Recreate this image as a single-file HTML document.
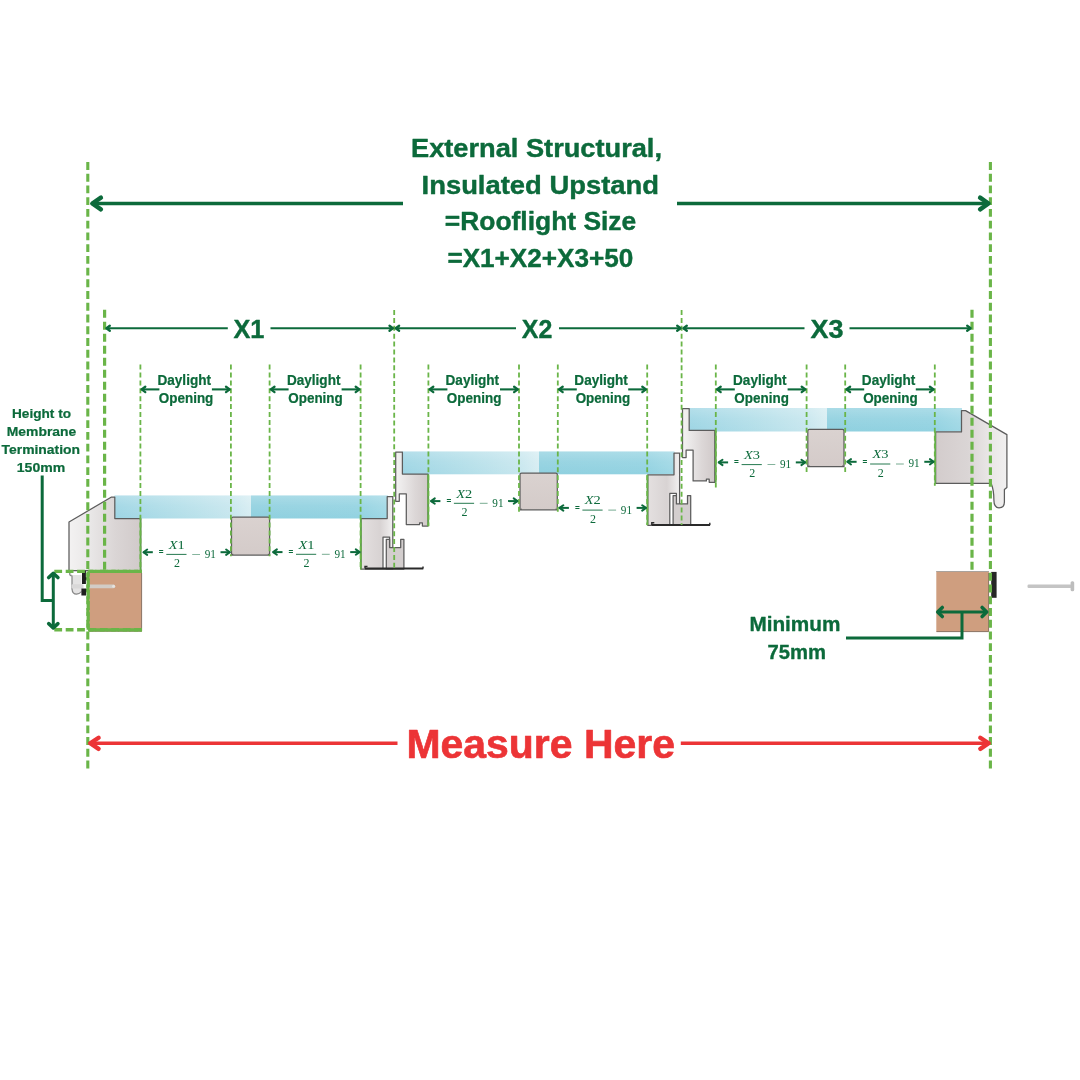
<!DOCTYPE html>
<html lang="en"><head><meta charset="utf-8"><title>Rooflight measuring guide</title>
<style>
html,body{margin:0;padding:0;background:#fff;}
body{width:1080px;height:1080px;overflow:hidden;}
svg{display:block;will-change:transform;}
text{font-family:"Liberation Sans",sans-serif;font-weight:bold;}
.m{font-family:"Liberation Serif",serif;font-weight:normal;}
.mi{font-family:"Liberation Serif",serif;font-weight:normal;font-style:italic;}
</style></head><body>
<svg width="1080" height="1080" viewBox="0 0 1080 1080">
<defs>
<linearGradient id="gl" x1="0" x2="1" y1="0" y2="0">
<stop offset="0" stop-color="#9dd5e4"/><stop offset="0.5" stop-color="#b4dfe9"/><stop offset="0.85" stop-color="#c6e6ee"/><stop offset="1" stop-color="#d6edf2"/>
</linearGradient>
<linearGradient id="gr" x1="0" x2="1" y1="0" y2="0">
<stop offset="0" stop-color="#8fd0df"/><stop offset="0.8" stop-color="#92d2e1"/><stop offset="1" stop-color="#a0d8e5"/>
</linearGradient>
<linearGradient id="gv" x1="0" x2="0" y1="0" y2="1">
<stop offset="0" stop-color="#fff" stop-opacity="0.24"/><stop offset="0.45" stop-color="#fff" stop-opacity="0.09"/><stop offset="1" stop-color="#fff" stop-opacity="0"/>
</linearGradient>
<linearGradient id="fr" x1="0" x2="1" y1="0" y2="0">
<stop offset="0" stop-color="#e6e3e3"/><stop offset="0.5" stop-color="#d9d5d5"/><stop offset="1" stop-color="#cfc9c9"/>
</linearGradient>
<linearGradient id="fu" x1="0" x2="1" y1="0" y2="0">
<stop offset="0" stop-color="#f4f3f3"/><stop offset="0.22" stop-color="#ebe9e9"/><stop offset="0.6" stop-color="#dcd7d7"/><stop offset="1" stop-color="#d0c9c9"/>
</linearGradient>
<linearGradient id="fl" x1="0" x2="1" y1="0" y2="0">
<stop offset="0" stop-color="#e4e0e0"/><stop offset="0.6" stop-color="#d8d3d3"/><stop offset="0.82" stop-color="#e6e3e3"/><stop offset="1" stop-color="#f2f1f1"/>
</linearGradient>
<linearGradient id="frr" x1="0" x2="1" y1="0" y2="0">
<stop offset="0" stop-color="#d3cccc"/><stop offset="0.45" stop-color="#dad5d5"/><stop offset="0.75" stop-color="#e9e6e6"/><stop offset="1" stop-color="#f1f0f0"/>
</linearGradient>
<linearGradient id="frl" x1="0" x2="1" y1="0" y2="0">
<stop offset="0" stop-color="#f3f2f2"/><stop offset="0.3" stop-color="#e9e7e7"/><stop offset="0.65" stop-color="#dad5d5"/><stop offset="1" stop-color="#d1caca"/>
</linearGradient>
<linearGradient id="frv" x1="0" x2="0" y1="0" y2="1">
<stop offset="0" stop-color="#dad2d0"/><stop offset="1" stop-color="#d4cbc9"/>
</linearGradient>
</defs>
<rect width="1080" height="1080" fill="#fff"/>

<rect x="114.5" y="495.5" width="136.5" height="23.0" fill="url(#gl)"/>
<rect x="251" y="495.5" width="137" height="23.0" fill="url(#gr)"/>
<rect x="114.5" y="495.5" width="273.5" height="23.0" fill="url(#gv)"/>
<rect x="402" y="451.5" width="137" height="22.80000000000001" fill="url(#gl)"/>
<rect x="539" y="451.5" width="135.5" height="22.80000000000001" fill="url(#gr)"/>
<rect x="402" y="451.5" width="272.5" height="22.80000000000001" fill="url(#gv)"/>
<rect x="689" y="408" width="138" height="23.5" fill="url(#gl)"/>
<rect x="827" y="408" width="135" height="23.5" fill="url(#gr)"/>
<rect x="689" y="408" width="273" height="23.5" fill="url(#gv)"/>
<path d="M69,522 L111.5,497 L114.8,497 L114.8,518.5 L140.7,518.5 L140.7,570.5 L69,570.5 Z" fill="url(#frl)" stroke="#5c5c5c" stroke-width="1.25" stroke-linejoin="round"/>
<rect x="88.7" y="571" width="53" height="60.3" fill="#cf9e7f"/><path d="M141.6,573 L141.6,631.2 L89,631.2" fill="none" stroke="#8b7466" stroke-width="1"/>
<path d="M69.7,570.5 L69.7,574.3 Q69.9,575.6 72,576 L72,589 Q72.4,594.2 76.5,594.2 Q79.5,594 81.5,591.5 L81.5,575 L72,575 Z" fill="#e4e3e3"/>
<path d="M69.7,570.5 L69.7,574.3 Q69.9,575.6 72,576 L72,589 Q72.4,594.2 76.5,594.2 Q79.5,594 81.5,591.5" fill="none" stroke="#858585" stroke-width="1.2"/>
<rect x="71.5" y="584.2" width="12" height="4.3" rx="1.2" fill="#d9d8d8"/>
<rect x="88" y="584.4" width="27.2" height="3.8" rx="1.8" fill="#d2ccc6"/>
<circle cx="113.6" cy="586.3" r="1.5" fill="#e6e2de"/>
<path d="M82,570.8 L85.9,570.8 L85.9,577.2 L87.9,577.6 L87.9,579.6 L85.9,580 L85.9,584 L82,584 Z" fill="#1f1f1f"/>
<path d="M81.4,588.5 L86,588.5 L87.9,589.8 L87.9,591.2 L86.2,591.8 L86.2,595.6 L81.4,595.6 Z" fill="#1f1f1f"/>
<path d="M231.5,555 L231.5,518.6 Q231.5,517 233.1,517 L268.0,517 Q269.6,517 269.6,518.6 L269.6,555 Z" fill="url(#frv)" stroke="#5c5c5c" stroke-width="1.25" stroke-linejoin="round"/>
<path d="M232.7,553.8 L232.7,555 M268.40000000000003,553.8 L268.40000000000003,555" fill="none" stroke="#555" stroke-width="1"/>
<path d="M520,509.8 L520,474.6 Q520,473 521.6,473 L555.6999999999999,473 Q557.3,473 557.3,474.6 L557.3,509.8 Z" fill="url(#frv)" stroke="#5c5c5c" stroke-width="1.25" stroke-linejoin="round"/>
<path d="M521.2,508.6 L521.2,509.8 M556.0999999999999,508.6 L556.0999999999999,509.8" fill="none" stroke="#555" stroke-width="1"/>
<path d="M807.8,466.6 L807.8,431.0 Q807.8,429.4 809.4,429.4 L842.4,429.4 Q844,429.4 844,431.0 L844,466.6 Z" fill="url(#frv)" stroke="#5c5c5c" stroke-width="1.25" stroke-linejoin="round"/>
<path d="M809.0,465.40000000000003 L809.0,466.6 M842.8,465.40000000000003 L842.8,466.6" fill="none" stroke="#555" stroke-width="1"/>
<path d="M 361.0,518.5 L 387.2,518.5 L 387.2,496.7 L 392.8,496.7 L 392.8,569.0 L 361.0,569.0 Z" fill="url(#fl)" stroke="#5c5c5c" stroke-width="1.25" stroke-linejoin="round"/>
<path d="M 383.0,569.0 L 383.0,537.0 L 389.6,537.0 L 389.6,569.0" fill="#fff" stroke="#5c5c5c" stroke-width="1.25" stroke-linejoin="round"/>
<path d="M 386.3,569.0 L 386.3,539.3 L 389.6,539.3 L 389.6,547.6 L 400.7,547.6 L 400.7,539.3 L 403.9,539.3 L 403.9,569.0 Z" fill="#d3cece" stroke="#5c5c5c" stroke-width="1.25" stroke-linejoin="round"/>
<path d="M 365.0,568.6 L 423.3,568.6" stroke="#2a2a2a" stroke-width="2" fill="none"/>
<path d="M 365.0,568.6 L 365.0,566.5 L 367.5,566.5" stroke="#2a2a2a" stroke-width="1.4" fill="none"/>
<path d="M 423.0,568.6 L 423.0,566.5" stroke="#2a2a2a" stroke-width="1.4" fill="none"/>
<path d="M 395.7,452.2 L 402.4,452.2 L 402.4,474.1 L 428.0,474.1 L 428.0,526.0 L 422.4,526.0 L 422.4,522.8 L 419.6,522.8 L 419.6,524.6 L 406.3,524.6 L 406.3,493.9 L 399.3,493.9 L 399.3,501.3 L 395.7,501.3 Z" fill="url(#fu)" stroke="#5c5c5c" stroke-width="1.25" stroke-linejoin="round"/>
<path d="M 647.8,474.8 L 674.0,474.8 L 674.0,453.0 L 679.6,453.0 L 679.6,525.3 L 647.8,525.3 Z" fill="url(#fl)" stroke="#5c5c5c" stroke-width="1.25" stroke-linejoin="round"/>
<path d="M 669.8,525.3 L 669.8,493.3 L 676.4,493.3 L 676.4,525.3" fill="#fff" stroke="#5c5c5c" stroke-width="1.25" stroke-linejoin="round"/>
<path d="M 673.1,525.3 L 673.1,495.6 L 676.4,495.6 L 676.4,503.9 L 687.5,503.9 L 687.5,495.6 L 690.7,495.6 L 690.7,525.3 Z" fill="#d3cece" stroke="#5c5c5c" stroke-width="1.25" stroke-linejoin="round"/>
<path d="M 651.8,524.9 L 710.1,524.9" stroke="#2a2a2a" stroke-width="2" fill="none"/>
<path d="M 651.8,524.9 L 651.8,522.8 L 654.3,522.8" stroke="#2a2a2a" stroke-width="1.4" fill="none"/>
<path d="M 709.8,524.9 L 709.8,522.8" stroke="#2a2a2a" stroke-width="1.4" fill="none"/>
<path d="M 682.5,408.5 L 689.2,408.5 L 689.2,430.4 L 714.8,430.4 L 714.8,482.3 L 709.2,482.3 L 709.2,479.1 L 706.4,479.1 L 706.4,480.9 L 693.1,480.9 L 693.1,450.2 L 686.1,450.2 L 686.1,457.6 L 682.5,457.6 Z" fill="url(#fu)" stroke="#5c5c5c" stroke-width="1.25" stroke-linejoin="round"/>
<path d="M935.6,431.9 L961.5,431.9 L961.5,410.6 L965.6,410.6 L1006.9,434.6 L1006.9,487.4 L1004.4,489.5 L1004.4,502 Q1004.4,507.8 999,507.8 Q993.9,507.8 993.9,500 Q993.9,490 991.1,483.3 L935.6,483.3 Z" fill="url(#frr)" stroke="#5c5c5c" stroke-width="1.25" stroke-linejoin="round"/>
<rect x="936.3" y="571.2" width="52.6" height="60.6" fill="#cf9e7f"/><path d="M936.3,571.5 L988.9,571.5" fill="none" stroke="#aaa29c" stroke-width="1"/><path d="M988.6,573 L988.6,631.6 L936.5,631.6" fill="none" stroke="#8b7466" stroke-width="1"/>
<rect x="991.2" y="571.9" width="5.4" height="25.9" fill="#262626"/>
<rect x="1027.5" y="584.6" width="44" height="3.4" rx="1.2" fill="#c4c4c4"/>
<rect x="1070.6" y="581.3" width="3.6" height="10" rx="1.5" fill="#bdbdbd"/>
<line x1="140.5" y1="518.5" x2="140.5" y2="570.5" stroke="#62a94a" stroke-width="1.7"/>
<line x1="360.8" y1="518.5" x2="360.8" y2="569.6" stroke="#62a94a" stroke-width="1.7"/>
<line x1="428.3" y1="474.1" x2="428.3" y2="526" stroke="#62a94a" stroke-width="1.7"/>
<line x1="647.4" y1="474.8" x2="647.4" y2="525.2" stroke="#62a94a" stroke-width="1.7"/>
<line x1="715.8" y1="430.9" x2="715.8" y2="482.8" stroke="#62a94a" stroke-width="1.7"/>
<line x1="935.2" y1="431.9" x2="935.2" y2="483.5" stroke="#62a94a" stroke-width="1.7"/>
<line x1="87.8" y1="162" x2="87.8" y2="769.2" stroke="#6ab548" stroke-width="3.1" stroke-dasharray="7.9 3.837"/>
<line x1="990.4" y1="162" x2="990.4" y2="769.2" stroke="#6ab548" stroke-width="3.1" stroke-dasharray="7.9 3.837"/>
<line x1="104.6" y1="309.7" x2="104.6" y2="570" stroke="#6ab548" stroke-width="3.2" stroke-dasharray="8.0 4.0"/>
<line x1="972" y1="309.7" x2="972" y2="569.8" stroke="#6ab548" stroke-width="3.2" stroke-dasharray="8.0 4.0"/>
<line x1="394.2" y1="310" x2="394.2" y2="569" stroke="#6ab548" stroke-width="1.8" stroke-dasharray="5.0 2.9"/>
<line x1="681.6" y1="310" x2="681.6" y2="525" stroke="#6ab548" stroke-width="1.8" stroke-dasharray="5.0 2.9"/>
<line x1="140.4" y1="364.6" x2="140.4" y2="570" stroke="#6ab548" stroke-width="1.8" stroke-dasharray="5.0 2.9"/>
<line x1="230.9" y1="364.6" x2="230.9" y2="556.3" stroke="#6ab548" stroke-width="1.8" stroke-dasharray="5.0 2.9"/>
<line x1="269.6" y1="364.6" x2="269.6" y2="556.3" stroke="#6ab548" stroke-width="1.8" stroke-dasharray="5.0 2.9"/>
<line x1="360.6" y1="364.6" x2="360.6" y2="569.5" stroke="#6ab548" stroke-width="1.8" stroke-dasharray="5.0 2.9"/>
<line x1="428.4" y1="364.6" x2="428.4" y2="526.3" stroke="#6ab548" stroke-width="1.8" stroke-dasharray="5.0 2.9"/>
<line x1="519" y1="364.6" x2="519" y2="514" stroke="#6ab548" stroke-width="1.8" stroke-dasharray="5.0 2.9"/>
<line x1="557.8" y1="364.6" x2="557.8" y2="514" stroke="#6ab548" stroke-width="1.8" stroke-dasharray="5.0 2.9"/>
<line x1="647.2" y1="364.6" x2="647.2" y2="525" stroke="#6ab548" stroke-width="1.8" stroke-dasharray="5.0 2.9"/>
<line x1="715.8" y1="364.6" x2="715.8" y2="487.4" stroke="#6ab548" stroke-width="1.8" stroke-dasharray="5.0 2.9"/>
<line x1="806.6" y1="364.6" x2="806.6" y2="472" stroke="#6ab548" stroke-width="1.8" stroke-dasharray="5.0 2.9"/>
<line x1="845.2" y1="364.6" x2="845.2" y2="472" stroke="#6ab548" stroke-width="1.8" stroke-dasharray="5.0 2.9"/>
<line x1="934.8" y1="364.6" x2="934.8" y2="485.7" stroke="#6ab548" stroke-width="1.8" stroke-dasharray="5.0 2.9"/>
<line x1="54.3" y1="571.4" x2="142" y2="571.4" stroke="#6ab548" stroke-width="3.4" stroke-dasharray="7.8 3.6"/>
<line x1="54.3" y1="629.8" x2="142" y2="629.8" stroke="#6ab548" stroke-width="3.4" stroke-dasharray="7.8 3.6"/>
<path d="M88.2,571.4 L141.8,571.4 M88.2,629.8 L141.8,629.8 M88.2,571.4 L88.2,629.8" fill="none" stroke="#6ab548" stroke-width="3.2" stroke-dasharray="9 2.2" stroke-dashoffset="4"/>
<line x1="91.84" y1="203.5" x2="403.00" y2="203.5" stroke="#0c6a3b" stroke-width="3.5"/>
<path d="M100.9,197.7 L92.3,203.5 L100.9,209.3" fill="none" stroke="#0c6a3b" stroke-width="4.48" stroke-linecap="round" stroke-linejoin="round"/>
<line x1="677.00" y1="203.5" x2="988.96" y2="203.5" stroke="#0c6a3b" stroke-width="3.5"/>
<path d="M980.1,209.3 L988.5,203.5 L980.1,197.7" fill="none" stroke="#0c6a3b" stroke-width="4.48" stroke-linecap="round" stroke-linejoin="round"/>
<line x1="106.16" y1="328.3" x2="227.80" y2="328.3" stroke="#0c6a3b" stroke-width="2.1"/>
<path d="M109.8,325.8 L106.4,328.3 L109.8,330.8" fill="none" stroke="#0c6a3b" stroke-width="2.3100000000000005" stroke-linecap="round" stroke-linejoin="round"/>
<line x1="270.50" y1="328.3" x2="393.15" y2="328.3" stroke="#0c6a3b" stroke-width="2.1"/>
<path d="M389.5,330.8 L392.9,328.3 L389.5,325.8" fill="none" stroke="#0c6a3b" stroke-width="2.3100000000000005" stroke-linecap="round" stroke-linejoin="round"/>
<line x1="395.45" y1="328.3" x2="516.00" y2="328.3" stroke="#0c6a3b" stroke-width="2.1"/>
<path d="M399.1,325.8 L395.7,328.3 L399.1,330.8" fill="none" stroke="#0c6a3b" stroke-width="2.3100000000000005" stroke-linecap="round" stroke-linejoin="round"/>
<line x1="559.00" y1="328.3" x2="680.85" y2="328.3" stroke="#0c6a3b" stroke-width="2.1"/>
<path d="M677.2,330.8 L680.6,328.3 L677.2,325.8" fill="none" stroke="#0c6a3b" stroke-width="2.3100000000000005" stroke-linecap="round" stroke-linejoin="round"/>
<line x1="683.15" y1="328.3" x2="804.50" y2="328.3" stroke="#0c6a3b" stroke-width="2.1"/>
<path d="M686.8,325.8 L683.4,328.3 L686.8,330.8" fill="none" stroke="#0c6a3b" stroke-width="2.3100000000000005" stroke-linecap="round" stroke-linejoin="round"/>
<line x1="849.50" y1="328.3" x2="970.85" y2="328.3" stroke="#0c6a3b" stroke-width="2.1"/>
<path d="M967.2,330.8 L970.6,328.3 L967.2,325.8" fill="none" stroke="#0c6a3b" stroke-width="2.3100000000000005" stroke-linecap="round" stroke-linejoin="round"/>
<line x1="89.79" y1="743.3" x2="397.50" y2="743.3" stroke="#ec3436" stroke-width="3.5"/>
<path d="M98.6,737.7 L90.2,743.3 L98.6,748.9" fill="none" stroke="#ec3436" stroke-width="4.375" stroke-linecap="round" stroke-linejoin="round"/>
<line x1="680.80" y1="743.3" x2="989.11" y2="743.3" stroke="#ec3436" stroke-width="3.5"/>
<path d="M980.3,748.9 L988.7,743.3 L980.3,737.7" fill="none" stroke="#ec3436" stroke-width="4.375" stroke-linecap="round" stroke-linejoin="round"/>
<text x="536.5" y="156.5" font-size="25.5" text-anchor="middle" fill="#0c6a3b" stroke="#0c6a3b" stroke-width="0.41" stroke-linejoin="round" textLength="251" lengthAdjust="spacingAndGlyphs">External Structural,</text>
<text x="540.3" y="193.5" font-size="25.5" text-anchor="middle" fill="#0c6a3b" stroke="#0c6a3b" stroke-width="0.41" stroke-linejoin="round" textLength="237.5" lengthAdjust="spacingAndGlyphs">Insulated Upstand</text>
<text x="540.5" y="230.1" font-size="25.5" text-anchor="middle" fill="#0c6a3b" stroke="#0c6a3b" stroke-width="0.41" stroke-linejoin="round" textLength="191.5" lengthAdjust="spacingAndGlyphs">=Rooflight Size</text>
<text x="540.4" y="266.9" font-size="25.5" text-anchor="middle" fill="#0c6a3b" stroke="#0c6a3b" stroke-width="0.41" stroke-linejoin="round" textLength="186" lengthAdjust="spacingAndGlyphs">=X1+X2+X3+50</text>
<text x="248.9" y="337.7" font-size="26.5" text-anchor="middle" fill="#0c6a3b" stroke="#0c6a3b" stroke-width="0.42" stroke-linejoin="round" textLength="31" lengthAdjust="spacingAndGlyphs">X1</text>
<text x="537" y="337.7" font-size="26.5" text-anchor="middle" fill="#0c6a3b" stroke="#0c6a3b" stroke-width="0.42" stroke-linejoin="round" textLength="30.5" lengthAdjust="spacingAndGlyphs">X2</text>
<text x="827" y="337.7" font-size="26.5" text-anchor="middle" fill="#0c6a3b" stroke="#0c6a3b" stroke-width="0.42" stroke-linejoin="round" textLength="33" lengthAdjust="spacingAndGlyphs">X3</text>
<text x="540.7" y="757.8" font-size="40.3" text-anchor="middle" fill="#ec3436" stroke="#ec3436" stroke-width="0.64" stroke-linejoin="round" textLength="268.5" lengthAdjust="spacingAndGlyphs">Measure Here</text>
<text x="184.25" y="385.2" font-size="15" text-anchor="middle" fill="#0c6a3b" stroke="#0c6a3b" stroke-width="0.24" stroke-linejoin="round" textLength="53.5" lengthAdjust="spacingAndGlyphs">Daylight</text>
<text x="186.05" y="402.8" font-size="15" text-anchor="middle" fill="#0c6a3b" stroke="#0c6a3b" stroke-width="0.24" stroke-linejoin="round" textLength="54.5" lengthAdjust="spacingAndGlyphs">Opening</text>
<line x1="141.36" y1="389.4" x2="159.40" y2="389.4" stroke="#0c6a3b" stroke-width="2.1"/>
<path d="M145.3,386.7 L141.6,389.4 L145.3,392.1" fill="none" stroke="#0c6a3b" stroke-width="2.3100000000000005" stroke-linecap="round" stroke-linejoin="round"/>
<line x1="211.90" y1="389.4" x2="229.94" y2="389.4" stroke="#0c6a3b" stroke-width="2.1"/>
<path d="M226.0,392.1 L229.7,389.4 L226.0,386.7" fill="none" stroke="#0c6a3b" stroke-width="2.3100000000000005" stroke-linecap="round" stroke-linejoin="round"/>
<text x="313.70000000000005" y="385.2" font-size="15" text-anchor="middle" fill="#0c6a3b" stroke="#0c6a3b" stroke-width="0.24" stroke-linejoin="round" textLength="53.5" lengthAdjust="spacingAndGlyphs">Daylight</text>
<text x="315.5" y="402.8" font-size="15" text-anchor="middle" fill="#0c6a3b" stroke="#0c6a3b" stroke-width="0.24" stroke-linejoin="round" textLength="54.5" lengthAdjust="spacingAndGlyphs">Opening</text>
<line x1="270.56" y1="389.4" x2="288.60" y2="389.4" stroke="#0c6a3b" stroke-width="2.1"/>
<path d="M274.5,386.7 L270.8,389.4 L274.5,392.1" fill="none" stroke="#0c6a3b" stroke-width="2.3100000000000005" stroke-linecap="round" stroke-linejoin="round"/>
<line x1="341.60" y1="389.4" x2="359.65" y2="389.4" stroke="#0c6a3b" stroke-width="2.1"/>
<path d="M355.7,392.1 L359.4,389.4 L355.7,386.7" fill="none" stroke="#0c6a3b" stroke-width="2.3100000000000005" stroke-linecap="round" stroke-linejoin="round"/>
<text x="472.3" y="385.2" font-size="15" text-anchor="middle" fill="#0c6a3b" stroke="#0c6a3b" stroke-width="0.24" stroke-linejoin="round" textLength="53.5" lengthAdjust="spacingAndGlyphs">Daylight</text>
<text x="474.09999999999997" y="402.8" font-size="15" text-anchor="middle" fill="#0c6a3b" stroke="#0c6a3b" stroke-width="0.24" stroke-linejoin="round" textLength="54.5" lengthAdjust="spacingAndGlyphs">Opening</text>
<line x1="429.35" y1="389.4" x2="447.40" y2="389.4" stroke="#0c6a3b" stroke-width="2.1"/>
<path d="M433.3,386.7 L429.6,389.4 L433.3,392.1" fill="none" stroke="#0c6a3b" stroke-width="2.3100000000000005" stroke-linecap="round" stroke-linejoin="round"/>
<line x1="500.00" y1="389.4" x2="518.05" y2="389.4" stroke="#0c6a3b" stroke-width="2.1"/>
<path d="M514.1,392.1 L517.8,389.4 L514.1,386.7" fill="none" stroke="#0c6a3b" stroke-width="2.3100000000000005" stroke-linecap="round" stroke-linejoin="round"/>
<text x="601.1" y="385.2" font-size="15" text-anchor="middle" fill="#0c6a3b" stroke="#0c6a3b" stroke-width="0.24" stroke-linejoin="round" textLength="53.5" lengthAdjust="spacingAndGlyphs">Daylight</text>
<text x="602.9" y="402.8" font-size="15" text-anchor="middle" fill="#0c6a3b" stroke="#0c6a3b" stroke-width="0.24" stroke-linejoin="round" textLength="54.5" lengthAdjust="spacingAndGlyphs">Opening</text>
<line x1="558.75" y1="389.4" x2="576.80" y2="389.4" stroke="#0c6a3b" stroke-width="2.1"/>
<path d="M562.7,386.7 L559.0,389.4 L562.7,392.1" fill="none" stroke="#0c6a3b" stroke-width="2.3100000000000005" stroke-linecap="round" stroke-linejoin="round"/>
<line x1="628.20" y1="389.4" x2="646.25" y2="389.4" stroke="#0c6a3b" stroke-width="2.1"/>
<path d="M642.3,392.1 L646.0,389.4 L642.3,386.7" fill="none" stroke="#0c6a3b" stroke-width="2.3100000000000005" stroke-linecap="round" stroke-linejoin="round"/>
<text x="759.8000000000001" y="385.2" font-size="15" text-anchor="middle" fill="#0c6a3b" stroke="#0c6a3b" stroke-width="0.24" stroke-linejoin="round" textLength="53.5" lengthAdjust="spacingAndGlyphs">Daylight</text>
<text x="761.6" y="402.8" font-size="15" text-anchor="middle" fill="#0c6a3b" stroke="#0c6a3b" stroke-width="0.24" stroke-linejoin="round" textLength="54.5" lengthAdjust="spacingAndGlyphs">Opening</text>
<line x1="716.75" y1="389.4" x2="734.80" y2="389.4" stroke="#0c6a3b" stroke-width="2.1"/>
<path d="M720.7,386.7 L717.0,389.4 L720.7,392.1" fill="none" stroke="#0c6a3b" stroke-width="2.3100000000000005" stroke-linecap="round" stroke-linejoin="round"/>
<line x1="787.60" y1="389.4" x2="805.65" y2="389.4" stroke="#0c6a3b" stroke-width="2.1"/>
<path d="M801.7,392.1 L805.4,389.4 L801.7,386.7" fill="none" stroke="#0c6a3b" stroke-width="2.3100000000000005" stroke-linecap="round" stroke-linejoin="round"/>
<text x="888.6" y="385.2" font-size="15" text-anchor="middle" fill="#0c6a3b" stroke="#0c6a3b" stroke-width="0.24" stroke-linejoin="round" textLength="53.5" lengthAdjust="spacingAndGlyphs">Daylight</text>
<text x="890.4" y="402.8" font-size="15" text-anchor="middle" fill="#0c6a3b" stroke="#0c6a3b" stroke-width="0.24" stroke-linejoin="round" textLength="54.5" lengthAdjust="spacingAndGlyphs">Opening</text>
<line x1="846.15" y1="389.4" x2="864.20" y2="389.4" stroke="#0c6a3b" stroke-width="2.1"/>
<path d="M850.1,386.7 L846.4,389.4 L850.1,392.1" fill="none" stroke="#0c6a3b" stroke-width="2.3100000000000005" stroke-linecap="round" stroke-linejoin="round"/>
<line x1="915.80" y1="389.4" x2="933.85" y2="389.4" stroke="#0c6a3b" stroke-width="2.1"/>
<path d="M929.9,392.1 L933.6,389.4 L929.9,386.7" fill="none" stroke="#0c6a3b" stroke-width="2.3100000000000005" stroke-linecap="round" stroke-linejoin="round"/>
<line x1="143.18" y1="552.2" x2="152.80" y2="552.2" stroke="#0c6a3b" stroke-width="2.0"/>
<path d="M147.2,549.5 L143.4,552.2 L147.2,554.9" fill="none" stroke="#0c6a3b" stroke-width="1.96" stroke-linecap="round" stroke-linejoin="round"/>
<line x1="220.50" y1="552.2" x2="230.12" y2="552.2" stroke="#0c6a3b" stroke-width="2.0"/>
<path d="M226.1,554.9 L229.9,552.2 L226.1,549.5" fill="none" stroke="#0c6a3b" stroke-width="1.96" stroke-linecap="round" stroke-linejoin="round"/>
<text x="161.2" y="554.9" font-size="8.5" text-anchor="middle" fill="#0c6a3b" textLength="4.8" lengthAdjust="spacingAndGlyphs">=</text>
<line x1="166.3" y1="554.4" x2="186.5" y2="554.4" stroke="#0c6a3b" stroke-width="0.9"/>
<text x="176.7" y="548.7" font-size="13" text-anchor="middle" fill="#0c6a3b" textLength="16" lengthAdjust="spacingAndGlyphs"><tspan class="mi">X</tspan><tspan class="m">1</tspan></text>
<text x="176.9" y="567.0" font-size="12" text-anchor="middle" fill="#0c6a3b" class="m">2</text>
<line x1="192.2" y1="554.4" x2="200.0" y2="554.4" stroke="#0c6a3b" stroke-width="0.8" opacity="0.7"/>
<text x="210.3" y="557.8" font-size="13" text-anchor="middle" fill="#0c6a3b" class="m" textLength="11.2" lengthAdjust="spacingAndGlyphs">91</text>
<line x1="272.88" y1="552.1" x2="282.50" y2="552.1" stroke="#0c6a3b" stroke-width="2.0"/>
<path d="M276.9,549.4 L273.1,552.1 L276.9,554.8" fill="none" stroke="#0c6a3b" stroke-width="1.96" stroke-linecap="round" stroke-linejoin="round"/>
<line x1="350.20" y1="552.1" x2="359.82" y2="552.1" stroke="#0c6a3b" stroke-width="2.0"/>
<path d="M355.8,554.8 L359.6,552.1 L355.8,549.4" fill="none" stroke="#0c6a3b" stroke-width="1.96" stroke-linecap="round" stroke-linejoin="round"/>
<text x="290.9" y="554.8" font-size="8.5" text-anchor="middle" fill="#0c6a3b" textLength="4.8" lengthAdjust="spacingAndGlyphs">=</text>
<line x1="296.0" y1="554.3" x2="316.2" y2="554.3" stroke="#0c6a3b" stroke-width="0.9"/>
<text x="306.4" y="548.6" font-size="13" text-anchor="middle" fill="#0c6a3b" textLength="16" lengthAdjust="spacingAndGlyphs"><tspan class="mi">X</tspan><tspan class="m">1</tspan></text>
<text x="306.6" y="566.9" font-size="12" text-anchor="middle" fill="#0c6a3b" class="m">2</text>
<line x1="321.9" y1="554.3" x2="329.7" y2="554.3" stroke="#0c6a3b" stroke-width="0.8" opacity="0.7"/>
<text x="340.0" y="557.7" font-size="13" text-anchor="middle" fill="#0c6a3b" class="m" textLength="11.2" lengthAdjust="spacingAndGlyphs">91</text>
<line x1="430.78" y1="501.1" x2="440.40" y2="501.1" stroke="#0c6a3b" stroke-width="2.0"/>
<path d="M434.8,498.4 L431.0,501.1 L434.8,503.8" fill="none" stroke="#0c6a3b" stroke-width="1.96" stroke-linecap="round" stroke-linejoin="round"/>
<line x1="508.10" y1="501.1" x2="517.72" y2="501.1" stroke="#0c6a3b" stroke-width="2.0"/>
<path d="M513.7,503.8 L517.5,501.1 L513.7,498.4" fill="none" stroke="#0c6a3b" stroke-width="1.96" stroke-linecap="round" stroke-linejoin="round"/>
<text x="448.8" y="503.8" font-size="8.5" text-anchor="middle" fill="#0c6a3b" textLength="4.8" lengthAdjust="spacingAndGlyphs">=</text>
<line x1="453.9" y1="503.3" x2="474.1" y2="503.3" stroke="#0c6a3b" stroke-width="0.9"/>
<text x="464.3" y="497.6" font-size="13" text-anchor="middle" fill="#0c6a3b" textLength="16" lengthAdjust="spacingAndGlyphs"><tspan class="mi">X</tspan><tspan class="m">2</tspan></text>
<text x="464.5" y="515.9" font-size="12" text-anchor="middle" fill="#0c6a3b" class="m">2</text>
<line x1="479.8" y1="503.3" x2="487.6" y2="503.3" stroke="#0c6a3b" stroke-width="0.8" opacity="0.7"/>
<text x="497.9" y="506.7" font-size="13" text-anchor="middle" fill="#0c6a3b" class="m" textLength="11.2" lengthAdjust="spacingAndGlyphs">91</text>
<line x1="559.28" y1="507.9" x2="568.90" y2="507.9" stroke="#0c6a3b" stroke-width="2.0"/>
<path d="M563.3,505.2 L559.5,507.9 L563.3,510.6" fill="none" stroke="#0c6a3b" stroke-width="1.96" stroke-linecap="round" stroke-linejoin="round"/>
<line x1="636.60" y1="507.9" x2="646.22" y2="507.9" stroke="#0c6a3b" stroke-width="2.0"/>
<path d="M642.2,510.6 L646.0,507.9 L642.2,505.2" fill="none" stroke="#0c6a3b" stroke-width="1.96" stroke-linecap="round" stroke-linejoin="round"/>
<text x="577.3" y="510.6" font-size="8.5" text-anchor="middle" fill="#0c6a3b" textLength="4.8" lengthAdjust="spacingAndGlyphs">=</text>
<line x1="582.4" y1="510.1" x2="602.6" y2="510.1" stroke="#0c6a3b" stroke-width="0.9"/>
<text x="592.8" y="504.4" font-size="13" text-anchor="middle" fill="#0c6a3b" textLength="16" lengthAdjust="spacingAndGlyphs"><tspan class="mi">X</tspan><tspan class="m">2</tspan></text>
<text x="593.0" y="522.7" font-size="12" text-anchor="middle" fill="#0c6a3b" class="m">2</text>
<line x1="608.3" y1="510.1" x2="616.1" y2="510.1" stroke="#0c6a3b" stroke-width="0.8" opacity="0.7"/>
<text x="626.4" y="513.5" font-size="13" text-anchor="middle" fill="#0c6a3b" class="m" textLength="11.2" lengthAdjust="spacingAndGlyphs">91</text>
<line x1="718.48" y1="462.4" x2="728.10" y2="462.4" stroke="#0c6a3b" stroke-width="2.0"/>
<path d="M722.5,459.7 L718.7,462.4 L722.5,465.1" fill="none" stroke="#0c6a3b" stroke-width="1.96" stroke-linecap="round" stroke-linejoin="round"/>
<line x1="795.80" y1="462.4" x2="805.42" y2="462.4" stroke="#0c6a3b" stroke-width="2.0"/>
<path d="M801.4,465.1 L805.2,462.4 L801.4,459.7" fill="none" stroke="#0c6a3b" stroke-width="1.96" stroke-linecap="round" stroke-linejoin="round"/>
<text x="736.5" y="465.1" font-size="8.5" text-anchor="middle" fill="#0c6a3b" textLength="4.8" lengthAdjust="spacingAndGlyphs">=</text>
<line x1="741.6" y1="464.6" x2="761.8" y2="464.6" stroke="#0c6a3b" stroke-width="0.9"/>
<text x="752.0" y="458.9" font-size="13" text-anchor="middle" fill="#0c6a3b" textLength="16" lengthAdjust="spacingAndGlyphs"><tspan class="mi">X</tspan><tspan class="m">3</tspan></text>
<text x="752.2" y="477.2" font-size="12" text-anchor="middle" fill="#0c6a3b" class="m">2</text>
<line x1="767.5" y1="464.6" x2="775.3" y2="464.6" stroke="#0c6a3b" stroke-width="0.8" opacity="0.7"/>
<text x="785.6" y="468.0" font-size="13" text-anchor="middle" fill="#0c6a3b" class="m" textLength="11.2" lengthAdjust="spacingAndGlyphs">91</text>
<line x1="846.98" y1="461.8" x2="856.60" y2="461.8" stroke="#0c6a3b" stroke-width="2.0"/>
<path d="M851.0,459.1 L847.2,461.8 L851.0,464.5" fill="none" stroke="#0c6a3b" stroke-width="1.96" stroke-linecap="round" stroke-linejoin="round"/>
<line x1="924.30" y1="461.8" x2="933.92" y2="461.8" stroke="#0c6a3b" stroke-width="2.0"/>
<path d="M929.9,464.5 L933.7,461.8 L929.9,459.1" fill="none" stroke="#0c6a3b" stroke-width="1.96" stroke-linecap="round" stroke-linejoin="round"/>
<text x="865.0" y="464.5" font-size="8.5" text-anchor="middle" fill="#0c6a3b" textLength="4.8" lengthAdjust="spacingAndGlyphs">=</text>
<line x1="870.1" y1="464.0" x2="890.3" y2="464.0" stroke="#0c6a3b" stroke-width="0.9"/>
<text x="880.5" y="458.3" font-size="13" text-anchor="middle" fill="#0c6a3b" textLength="16" lengthAdjust="spacingAndGlyphs"><tspan class="mi">X</tspan><tspan class="m">3</tspan></text>
<text x="880.7" y="476.6" font-size="12" text-anchor="middle" fill="#0c6a3b" class="m">2</text>
<line x1="896.0" y1="464.0" x2="903.8" y2="464.0" stroke="#0c6a3b" stroke-width="0.8" opacity="0.7"/>
<text x="914.1" y="467.4" font-size="13" text-anchor="middle" fill="#0c6a3b" class="m" textLength="11.2" lengthAdjust="spacingAndGlyphs">91</text>
<text x="41.5" y="418" font-size="12.5" text-anchor="middle" fill="#0c6a3b" stroke="#0c6a3b" stroke-width="0.2" stroke-linejoin="round" textLength="59" lengthAdjust="spacingAndGlyphs">Height to</text>
<text x="41.5" y="435.8" font-size="12.5" text-anchor="middle" fill="#0c6a3b" stroke="#0c6a3b" stroke-width="0.2" stroke-linejoin="round" textLength="69.5" lengthAdjust="spacingAndGlyphs">Membrane</text>
<text x="40.8" y="453.7" font-size="12.5" text-anchor="middle" fill="#0c6a3b" stroke="#0c6a3b" stroke-width="0.2" stroke-linejoin="round" textLength="78.5" lengthAdjust="spacingAndGlyphs">Termination</text>
<text x="41" y="471.6" font-size="12.5" text-anchor="middle" fill="#0c6a3b" stroke="#0c6a3b" stroke-width="0.2" stroke-linejoin="round" textLength="48.5" lengthAdjust="spacingAndGlyphs">150mm</text>
<path d="M42.2,475.5 L42.2,600.4 L53,600.4" fill="none" stroke="#0c6a3b" stroke-width="3"/>
<line x1="53.3" y1="574" x2="53.3" y2="627" stroke="#0c6a3b" stroke-width="3"/>
<path d="M57.9,577.5 L53.3,573.3 L48.7,577.5" fill="none" stroke="#0c6a3b" stroke-width="3.6" stroke-linecap="round" stroke-linejoin="round"/>
<path d="M48.7,623.6 L53.3,627.8 L57.9,623.6" fill="none" stroke="#0c6a3b" stroke-width="3.6" stroke-linecap="round" stroke-linejoin="round"/>
<text x="794.9" y="630.6" font-size="20" text-anchor="middle" fill="#0c6a3b" stroke="#0c6a3b" stroke-width="0.32" stroke-linejoin="round" textLength="91" lengthAdjust="spacingAndGlyphs">Minimum</text>
<text x="796.7" y="658.5" font-size="20" text-anchor="middle" fill="#0c6a3b" stroke="#0c6a3b" stroke-width="0.32" stroke-linejoin="round" textLength="58.5" lengthAdjust="spacingAndGlyphs">75mm</text>
<path d="M846,638 L962,638 L962,612" fill="none" stroke="#0c6a3b" stroke-width="3"/>
<line x1="937.36" y1="612" x2="987.04" y2="612" stroke="#0c6a3b" stroke-width="3.2"/>
<path d="M942.3,607.4 L937.7,612.0 L942.3,616.6" fill="none" stroke="#0c6a3b" stroke-width="3.5200000000000005" stroke-linecap="round" stroke-linejoin="round"/>
<path d="M982.1,616.6 L986.7,612.0 L982.1,607.4" fill="none" stroke="#0c6a3b" stroke-width="3.5200000000000005" stroke-linecap="round" stroke-linejoin="round"/>
</svg></body></html>
